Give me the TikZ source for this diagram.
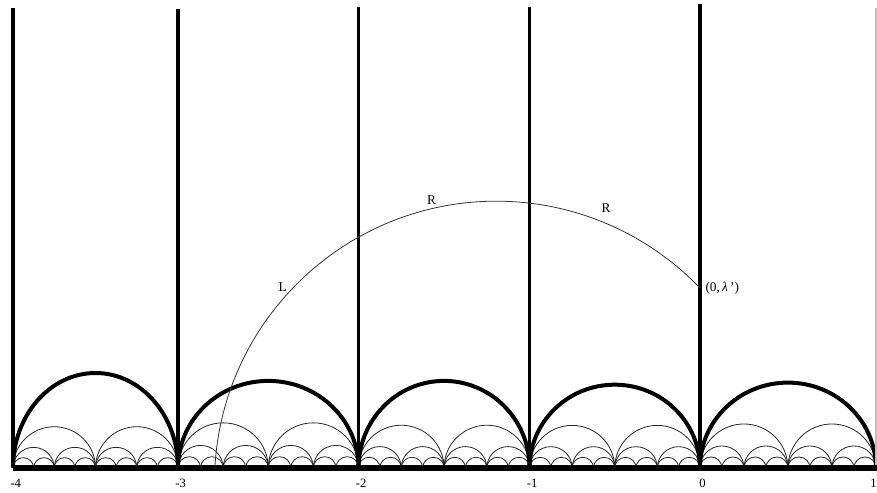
\documentclass[tikz,border=0pt]{standalone}
\usepackage{fontspec}
\setmainfont{Liberation Serif}
\begin{document}
\begin{tikzpicture}[scale=4.53,
    thinarc/.style={line width=0.6pt, black!85},
    bigarc/.style={line width=3pt},
    wall/.style={line width=2.4pt},
    geodesic/.style={line width=0.6pt, black!80},
    ticklabel/.style={font=\fontsize{9.5}{11}\selectfont, inner sep=0pt},
    pathlabel/.style={font=\fontsize{10}{12}\selectfont, inner sep=0pt}]
  \useasboundingbox (-4.0757,-0.1456) rectangle (1.031,2.725);
  % Arcs over each strip (halves, quarters, eighths, then the big one)
  \foreach \a/\b/\h in {-4/-3.039/0.553, -3.039/-1.988/0.507, -1.988/-0.992/0.507,
                        -0.992/0/0.485, 0/1.025/0.497}{
    \pgfmathsetmacro{\w}{\b-\a}
    \foreach \n in {2,4,8}{
      \pgfmathsetmacro{\r}{\w/(2*\n)}
      \foreach \k in {1,...,\n}{
        \pgfmathsetmacro{\s}{\a+(\k-1)*\w/\n}
        \draw[thinarc] (\s,0) arc[start angle=180, end angle=0, radius=\r];
      }
    }
    \pgfmathsetmacro{\R}{\w/2}
    \draw[bigarc] (\a,0) arc[start angle=180, end angle=0, x radius=\R, y radius=\h];
  }
  % Vertical sides of the strips
  \foreach \x/\t in {-4/2.678, -3.039/2.671, -1.988/2.686, -0.992/2.686, 0/2.702}{
    \draw[wall] (\x,0) -- (\x,\t);
  }
  \draw[gray!50, line width=0.8pt] (1.025,0) -- (1.025,2.677);
  % Real axis
  \draw[line width=4.5pt] (-4,0) -- (1.031,0);
  % Axis labels
  \foreach \x/\lab [count=\i] in {-4/-4, -3.039/-3, -1.988/-2, -0.992/-1, 0/0}{
    \node[ticklabel, xshift=2pt] (tick\i) at (\x,-0.0914) {\lab};
  }
  \node[ticklabel, anchor=east] (tick6) at (1.031,-0.0914) {1};
  % Geodesic to (0,lambda')
  \coordinate (foot) at (-2.8246,0);
  \draw[geodesic] (foot) arc[start angle=176.91, end angle=43.81, radius=1.642]
    coordinate (lam);
  \node[pathlabel, anchor=west, xshift=4pt] (lamlabel) at (lam) {(0,\,\textit{λ}\,')};
  \node[pathlabel] (labL) at (-2.4297,1.052) {L};
  \node[pathlabel] (labR1) at (-1.562,1.560) {R};
  \node[pathlabel] (labR2) at (-0.547,1.512) {R};
\end{tikzpicture}
\end{document}
